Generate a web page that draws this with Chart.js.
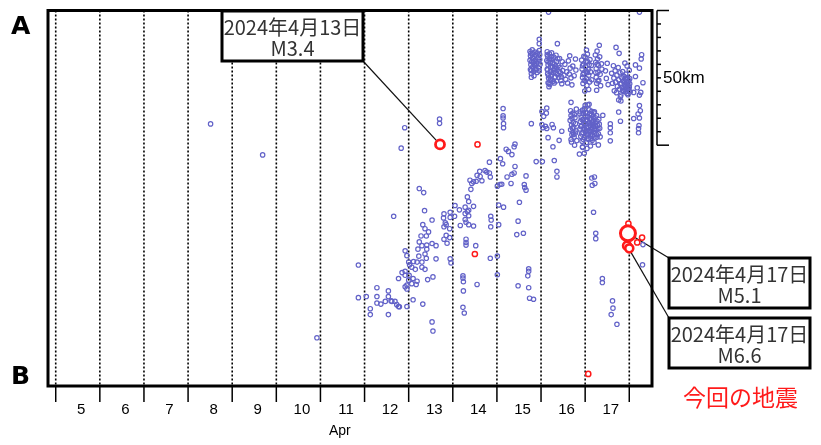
<!DOCTYPE html>
<html>
<head>
<meta charset="utf-8">
<script src="https://cdn.jsdelivr.net/npm/chart.js@4.4.1/dist/chart.umd.min.js"></script>
<style>
  html, body { margin: 0; padding: 0; background: #fff; }
  #wrap { width: 821px; height: 445px; }
</style>
</head>
<body>
<div id="wrap"><canvas id="chart" width="821" height="445"></canvas></div>
<script>
  // x: day of April (fractional), y: distance from A towards B in km
  const dayLabels = ['5', '6', '7', '8', '9', '10', '11', '12', '13', '14', '15', '16', '17'];
  const firstDay = 5;
  const monthLabel = 'Apr';

  const quakesWest = [[8.51, 42.1], [9.69, 53.6], [10.92, 121.5]];

  const quakes11to13 = [
    [11.86, 94.5], [11.86, 106.6], [12.04, 106.2], [12.13, 110.7], [12.13, 112.9], [12.28, 106.2], [12.28, 102.9],
    [12.28, 108.6], [12.37, 109.0], [12.47, 108.0], [12.54, 106.2], [12.54, 104.1], [12.54, 112.9], [12.60, 107.8],
    [12.62, 108.0], [12.66, 76.4], [12.69, 108.0], [12.73, 109.2], [12.77, 109.9], [12.77, 99.5], [12.79, 110.0],
    [12.83, 51.1], [12.85, 97.3], [12.91, 43.5], [12.92, 89.2], [12.92, 96.8], [12.92, 98.3], [12.92, 102.6],
    [12.96, 91.0], [12.96, 101.9], [12.96, 103.4], [12.96, 109.9], [13.00, 93.4], [13.00, 100.1], [13.01, 98.3],
    [13.02, 94.4], [13.07, 95.3], [13.07, 101.4], [13.10, 99.5], [13.10, 107.4], [13.11, 93.2], [13.15, 96.1],
    [13.17, 101.7], [13.19, 93.4], [13.19, 100.5], [13.21, 88.6], [13.23, 91.2], [13.24, 66.1], [13.24, 85.9],
    [13.28, 83.7], [13.30, 87.3], [13.30, 93.4], [13.30, 95.3], [13.32, 79.5], [13.32, 109.0], [13.34, 67.6],
    [13.36, 74.3], [13.37, 81.0], [13.37, 90.4], [13.37, 96.1], [13.40, 83.7], [13.40, 92.0], [13.41, 87.1],
    [13.41, 88.6], [13.43, 99.9], [13.45, 82.2], [13.53, 77.8], [13.53, 86.5], [13.53, 115.6], [13.55, 98.9],
    [13.55, 119.0], [13.62, 87.3], [13.62, 92.2], [13.70, 40.3], [13.70, 41.9]
  ];

  const quakes14 = [
    [13.80, 75.5], [13.79, 77.0], [13.83, 78.8], [13.80, 80.3], [13.93, 81.0], [13.94, 74.9], [14.04, 76.4],
    [13.85, 83.5], [13.80, 84.9], [13.93, 84.3], [13.87, 86.4], [13.94, 92.2], [13.96, 93.7], [14.05, 72.4],
    [13.94, 76.8], [13.85, 79.5], [14.15, 74.0], [14.28, 73.0], [14.47, 72.7], [14.36, 74.2], [14.36, 76.2],
    [14.28, 75.4], [14.28, 77.6], [14.30, 78.6], [14.36, 79.5], [14.47, 80.0], [14.17, 79.8], [14.33, 74.6],
    [14.30, 84.9], [14.30, 86.1], [14.30, 87.1], [14.52, 87.3], [14.33, 69.2], [14.36, 70.9], [14.41, 66.4],
    [14.43, 64.2], [14.39, 63.0], [14.47, 63.6], [14.53, 63.4], [14.66, 63.2], [14.55, 61.2], [14.62, 61.6],
    [14.61, 59.7], [14.73, 59.4], [14.77, 60.0], [14.83, 60.3], [14.85, 61.8], [14.83, 56.3], [14.23, 98.5],
    [14.23, 99.3], [14.24, 100.7], [14.24, 104.1], [14.23, 110.2], [14.26, 112.3], [14.55, 101.7], [14.85, 92.0],
    [14.86, 76.4], [14.87, 77.8], [14.86, 80.3]
  ];

  const quakes15 = [
    [15.01, 91.2], [15.01, 98.1], [15.04, 79.5], [15.04, 72.2], [15.15, 73.0], [15.01, 65.2], [15.07, 64.6],
    [15.11, 64.5], [15.23, 61.8], [15.32, 64.2], [15.34, 60.8], [15.39, 60.3], [15.41, 57.9], [15.66, 61.4],
    [15.62, 64.6], [15.63, 65.7], [15.66, 66.7], [15.51, 71.2], [15.48, 78.2], [15.45, 83.2], [15.60, 82.7],
    [15.48, 102.2], [15.72, 95.9], [15.72, 96.8], [15.70, 98.5], [15.72, 102.9], [15.74, 106.8], [15.83, 107.2],
    [15.08, 55.0], [15.13, 56.9], [15.34, 53.5], [15.39, 50.6], [15.21, 51.5], [15.26, 52.3], [15.41, 49.6],
    [15.15, 43.5], [15.14, 36.4], [15.14, 39.1], [15.14, 39.9], [15.15, 42.0], [15.78, 42.0], [15.89, 56.1],
    [16.03, 56.1]
  ];

  // shallow band near the A end, Apr 15-18
  const upperBand = [
    [15.75, 15.2], [15.76, 16.8], [15.75, 18.5], [15.77, 20.1], [15.76, 21.9], [15.78, 23.4], [15.80, 14.6],
    [15.81, 16.0], [15.80, 17.7], [15.82, 19.3], [15.81, 21.0], [15.83, 22.6], [15.84, 24.2], [15.86, 15.4],
    [15.85, 17.1], [15.87, 18.8], [15.86, 20.5], [15.88, 22.1], [15.90, 19.6], [15.91, 23.0], [15.93, 17.5],
    [15.95, 21.3], [15.96, 14.9], [15.97, 16.4], [15.97, 18.2], [15.98, 20.0], [15.96, 22.4], [15.96, 10.7],
    [15.96, 12.3], [15.78, 24.8], [15.92, 15.8], [15.77, 15.9], [15.79, 19.0], [15.78, 22.3], [15.83, 17.9],
    [15.85, 20.0], [15.89, 16.6], [15.89, 21.7], [15.94, 19.1],
    [16.14, 15.3], [16.15, 17.0], [16.13, 18.6], [16.16, 20.2], [16.14, 21.8], [16.15, 23.5], [16.17, 25.1],
    [16.16, 26.8], [16.18, 28.3], [16.19, 16.1], [16.20, 19.4], [16.21, 22.6], [16.22, 24.3], [16.20, 27.5],
    [16.24, 15.7], [16.25, 18.1], [16.26, 20.9], [16.27, 23.0], [16.25, 25.8], [16.29, 17.3], [16.30, 19.9],
    [16.31, 21.5], [16.32, 24.7], [16.30, 26.9], [16.34, 16.6], [16.35, 18.9], [16.36, 22.0], [16.37, 23.8],
    [16.35, 26.2], [16.39, 20.5], [16.40, 24.9], [16.42, 17.8], [16.43, 21.2], [16.44, 23.1], [16.45, 26.0],
    [16.48, 19.0], [16.49, 22.3], [16.47, 27.2], [16.52, 24.0], [16.54, 20.0], [16.56, 25.6], [16.58, 22.8],
    [16.60, 26.9], [16.62, 18.7], [16.64, 23.6], [16.65, 16.8], [16.66, 21.4], [16.68, 25.0], [16.70, 27.6],
    [16.72, 20.6], [16.75, 24.2], [16.78, 18.0], [16.79, 22.1], [16.37, 12.3],
    [16.14, 16.4], [16.16, 19.0], [16.15, 22.0], [16.17, 24.2], [16.18, 27.0], [16.19, 18.0], [16.21, 21.0],
    [16.22, 25.5], [16.23, 17.2], [16.24, 23.9], [16.26, 19.3], [16.28, 22.1], [16.28, 26.3], [16.33, 20.6],
    [16.33, 23.0], [16.38, 17.9], [16.41, 22.6], [16.46, 24.6],
    [16.92, 18.4], [16.93, 21.7], [16.94, 24.9], [16.95, 27.1], [16.96, 19.9], [16.97, 23.2], [16.98, 26.0],
    [16.99, 29.9], [17.00, 17.3], [17.01, 20.8], [17.02, 22.5], [17.03, 14.7], [17.03, 25.4], [17.04, 27.8],
    [17.05, 16.2], [17.06, 19.0], [17.07, 21.9], [17.08, 24.0], [17.08, 29.3], [17.10, 26.5], [17.11, 18.2],
    [17.12, 22.8], [17.14, 20.4], [17.15, 25.7], [17.23, 16.5], [17.24, 19.2], [17.25, 21.6], [17.25, 24.8],
    [17.26, 27.0], [17.26, 29.6], [17.27, 15.1], [17.28, 18.0], [17.29, 22.9], [17.30, 20.3], [17.31, 25.9],
    [17.32, 12.9], [17.33, 17.2], [17.34, 23.7], [17.35, 27.9], [17.37, 19.8], [17.38, 21.8], [17.46, 22.4],
    [17.48, 25.2], [17.50, 19.6], [17.52, 27.5], [16.68, 34.1], [16.94, 20.5], [16.95, 23.8], [16.97, 17.0],
    [17.00, 26.1], [17.02, 19.1], [17.05, 23.0], [17.09, 20.1], [17.24, 23.0], [17.27, 20.0], [17.29, 26.2],
    [17.60, 23.3], [17.62, 27.0], [17.64, 20.5], [17.65, 25.1], [17.66, 29.8], [17.68, 22.4], [17.69, 26.6],
    [17.70, 13.7], [17.71, 30.5], [17.72, 24.0], [17.73, 28.2], [17.75, 21.2], [17.76, 25.7], [17.77, 15.9],
    [17.78, 29.2], [17.79, 23.1], [17.80, 27.3], [17.81, 31.4], [17.81, 33.6], [17.83, 25.0], [17.84, 28.6],
    [17.85, 22.7], [17.86, 26.3], [17.87, 30.0], [17.88, 24.4], [17.89, 27.7], [17.90, 29.4], [17.91, 25.5],
    [17.92, 23.6], [17.93, 28.0], [17.94, 26.8], [17.95, 30.8], [17.96, 24.9], [17.97, 27.4], [17.98, 29.0],
    [17.99, 26.0], [18.00, 28.5], [18.01, 25.3], [18.02, 30.2], [18.00, 22.2], [17.95, 20.6], [17.90, 19.5],
    [17.82, 27.0], [17.85, 29.6], [17.88, 26.0], [17.91, 28.3], [17.93, 25.2], [17.96, 27.9], [17.99, 29.8],
    [18.01, 27.2], [17.97, 31.3], [17.92, 30.2],
    [18.28, 16.4], [18.27, 18.0], [18.23, 21.4], [18.14, 20.2], [18.14, 24.5], [18.31, 26.8], [18.18, 28.7],
    [18.26, 30.4], [18.10, 30.4], [18.23, 31.4], [18.23, 35.3], [18.25, 37.2], [18.20, 38.4], [18.23, 39.9],
    [18.10, 40.1], [18.22, 42.7], [18.21, 43.8], [18.21, 45.4], [16.17, 0.6], [18.23, 0.6]
  ];

  // deeper cluster, Apr 16-17
  const lowerBand = [
    [16.02, 37.5], [16.06, 39.3], [16.13, 36.2], [16.12, 38.1], [16.02, 42.3], [16.10, 43.0], [16.13, 43.8],
    [16.04, 43.5], [16.25, 42.3], [16.28, 43.5], [16.16, 47.2], [16.27, 50.6], [16.41, 48.2], [16.47, 44.8],
    [16.30, 55.7], [16.36, 59.7], [16.36, 61.8],
    [16.67, 37.2], [16.68, 39.0], [16.66, 40.8], [16.69, 42.5], [16.67, 44.3], [16.70, 46.1], [16.68, 47.9],
    [16.72, 38.1], [16.73, 41.6], [16.74, 43.4], [16.72, 45.2], [16.75, 47.0], [16.77, 39.8], [16.78, 42.0],
    [16.79, 44.7], [16.80, 36.6], [16.81, 48.3], [16.76, 50.0], [16.70, 40.0], [16.71, 43.6], [16.74, 46.0],
    [16.76, 38.6], [16.78, 45.5], [16.69, 48.8],
    [16.88, 38.4], [16.89, 41.2], [16.88, 44.0], [16.90, 46.7], [16.91, 39.7], [16.92, 42.9], [16.93, 48.5],
    [16.94, 37.0], [16.95, 45.3], [16.96, 40.5], [16.97, 43.6], [16.98, 47.2], [16.99, 36.3], [17.00, 39.1],
    [17.01, 42.0], [17.02, 44.8], [17.03, 49.0], [17.04, 38.0], [17.05, 41.0], [17.06, 46.0], [17.07, 43.2],
    [17.08, 48.0], [17.09, 36.9], [17.10, 40.2], [17.11, 45.0], [17.12, 42.5], [17.13, 47.4], [17.14, 38.9],
    [17.15, 44.0], [17.16, 41.4], [17.17, 46.3], [17.18, 39.6], [17.19, 43.0], [17.20, 48.9], [17.21, 37.6],
    [17.22, 45.5], [17.23, 41.8], [17.25, 44.4], [17.26, 39.0], [17.27, 47.0], [17.28, 42.6], [17.30, 45.8],
    [17.31, 40.4], [17.33, 43.7], [17.34, 46.9], [16.94, 50.6], [17.04, 51.2], [17.12, 50.3], [17.00, 35.2],
    [17.06, 35.0], [17.09, 34.8], [16.98, 53.0],
    [16.89, 37.6], [16.90, 43.1], [16.92, 45.8], [16.93, 40.6], [16.95, 38.2], [16.96, 47.9], [16.97, 41.7],
    [16.99, 44.2], [17.00, 46.5], [17.01, 37.9], [17.02, 40.7], [17.03, 43.5], [17.05, 45.9], [17.06, 39.4],
    [17.07, 47.5], [17.08, 41.8], [17.09, 44.6], [17.10, 38.3], [17.11, 42.9], [17.12, 46.0], [17.13, 40.0],
    [17.14, 44.9], [17.15, 37.4], [17.16, 48.2], [17.17, 42.2], [17.18, 45.2], [17.19, 40.8], [17.20, 38.0],
    [17.21, 43.9], [17.22, 47.3], [17.23, 39.8], [17.24, 42.9], [17.26, 46.1], [17.27, 41.1], [17.29, 43.8],
    [17.32, 42.2],
    [16.87, 53.3], [16.94, 50.8], [17.30, 49.9], [17.57, 42.1], [17.57, 43.5], [17.57, 45.4], [17.57, 48.4],
    [17.40, 38.9], [17.80, 41.1], [17.76, 37.7], [17.80, 32.0], [17.76, 33.2]
  ];

  const quakes17 = [
    [17.15, 62.2], [17.21, 61.8], [17.16, 64.9], [17.22, 64.2], [17.19, 74.9], [17.24, 82.7], [17.24, 84.7],
    [17.39, 99.5], [17.39, 101.0], [17.62, 107.8], [17.63, 110.5], [17.59, 112.9], [17.72, 116.5],
    [18.31, 86.9], [18.30, 94.4]
  ];

  // red marks: the event series
  const eventsSmall = [[14.56, 49.7], [14.50, 90.4], [17.07, 134.9], [17.98, 79.1], [18.29, 84.3], [18.18, 86.1]];
  const eventsMid = [[17.95, 87.3], [18.00, 88.3]];
  const eventM34 = [[13.71, 49.7]];
  const eventMain = [[17.97, 82.7]];

  const callouts = [
    { date: '2024年4月13日', mag: 'M3.4', at: eventM34[0], box: [222, 11], corner: [1, 1] },
    { date: '2024年4月17日', mag: 'M5.1', at: eventMain[0], box: [669, 258], corner: [0, 0] },
    { date: '2024年4月17日', mag: 'M6.6', at: eventsMid[0], box: [669, 318], corner: [0, 0] }
  ];
  const boxW = 141, boxH = 50;

  const toXY = (pairs) => pairs.map(([x, y]) => ({ x, y }));
  const blue = '#6262c8';
  const red = '#ff1a1a';

  const decor = {
    id: 'decor',
    beforeDatasetsDraw(chart) {
      const { ctx, chartArea: a, scales: { x, y } } = chart;
      ctx.save();
      ctx.strokeStyle = '#000';
      ctx.lineWidth = 1.6;
      ctx.setLineDash([2, 2]);
      for (let d = firstDay; d <= firstDay + dayLabels.length; d++) {
        const px = x.getPixelForValue(d);
        ctx.beginPath();
        ctx.moveTo(px, a.top);
        ctx.lineTo(px, a.bottom);
        ctx.stroke();
      }
      ctx.restore();

      // leader lines run under the event circles
      ctx.save();
      ctx.strokeStyle = '#111';
      ctx.lineWidth = 1.2;
      callouts.forEach((c) => {
        const bx = c.box[0] + c.corner[0] * boxW;
        const by = c.box[1] + c.corner[1] * boxH;
        ctx.beginPath();
        ctx.moveTo(bx, by);
        ctx.lineTo(x.getPixelForValue(c.at[0]), y.getPixelForValue(c.at[1]));
        ctx.stroke();
      });
      ctx.restore();
    },
    afterDraw(chart) {
      const { ctx, chartArea: a, scales: { x, y } } = chart;
      ctx.save();

      // plot frame
      ctx.strokeStyle = '#000';
      ctx.lineWidth = 3;
      ctx.strokeRect(a.left, a.top, a.right - a.left, a.bottom - a.top);

      // day ticks and labels
      ctx.lineWidth = 1.5;
      for (let d = firstDay; d <= firstDay + dayLabels.length; d++) {
        const px = x.getPixelForValue(d);
        ctx.beginPath();
        ctx.moveTo(px, a.bottom);
        ctx.lineTo(px, a.bottom + 16);
        ctx.stroke();
      }
      ctx.fillStyle = '#000';
      ctx.font = '15px "Liberation Sans", Arial, sans-serif';
      ctx.textAlign = 'center';
      ctx.textBaseline = 'middle';
      dayLabels.forEach((lab, i) => {
        ctx.fillText(lab, x.getPixelForValue(firstDay + i + 0.5) + 3.5, a.bottom + 24);
      });
      ctx.font = '14px "Liberation Sans", Arial, sans-serif';
      ctx.fillText(monthLabel, x.getPixelForValue(11.44), a.bottom + 45);

      // 50 km scale bar
      const sx = a.right + 5;
      ctx.lineWidth = 1.5;
      ctx.beginPath();
      ctx.moveTo(sx, y.getPixelForValue(0));
      ctx.lineTo(sx, y.getPixelForValue(50));
      ctx.stroke();
      for (let km = 0; km <= 50; km += 5) {
        const py = y.getPixelForValue(km);
        const len = km === 0 || km === 50 ? 12 : 4;
        ctx.beginPath();
        ctx.moveTo(sx, py);
        ctx.lineTo(sx + len, py);
        ctx.stroke();
      }
      ctx.textAlign = 'left';
      ctx.font = '17px "Liberation Sans", Arial, sans-serif';
      ctx.fillText('50km', sx + 6, y.getPixelForValue(25));

      // section end labels
      ctx.font = 'bold 25px "DejaVu Sans", sans-serif';
      ctx.textBaseline = 'alphabetic';
      ctx.fillText('A', 11, 34);
      ctx.fillText('B', 11, 384);

      // callout boxes
      callouts.forEach((c) => {
        const [bx, by] = c.box;
        ctx.fillStyle = '#fff';
        ctx.fillRect(bx, by, boxW, boxH);
        ctx.strokeStyle = '#000';
        ctx.lineWidth = 3;
        ctx.strokeRect(bx, by, boxW, boxH);
        ctx.fillStyle = '#333';
        ctx.font = '20px "Noto Sans CJK JP", sans-serif';
        ctx.textAlign = 'center';
        ctx.textBaseline = 'middle';
        ctx.fillText(c.date, bx + boxW / 2, by + 16);
        ctx.fillText(c.mag, bx + boxW / 2, by + 37);
      });

      ctx.fillStyle = red;
      ctx.font = '23px "Noto Sans CJK JP", sans-serif';
      ctx.textAlign = 'left';
      ctx.textBaseline = 'middle';
      ctx.fillText('今回の地震', 683, 397);
      ctx.restore();
    }
  };

  new Chart(document.getElementById('chart'), {
    type: 'scatter',
    data: {
      datasets: [
        { label: 'main', data: toXY(eventMain), pointRadius: 7.5, borderWidth: 3, borderColor: red, backgroundColor: '#fff' },
        { label: 'M3.4', data: toXY(eventM34), pointRadius: 4.5, borderWidth: 2.8, borderColor: red, backgroundColor: '#fff' },
        { label: 'mid', data: toXY(eventsMid), pointRadius: 4, borderWidth: 2.6, borderColor: red, backgroundColor: '#fff' },
        { label: 'small', data: toXY(eventsSmall), pointRadius: 2.6, borderWidth: 1.5, borderColor: red, backgroundColor: '#fff' },
        {
          label: 'quakes',
          data: toXY([].concat(quakesWest, quakes11to13, quakes14, quakes15, upperBand, lowerBand, quakes17)),
          pointRadius: 2.2, borderWidth: 1.2, borderColor: blue, backgroundColor: 'rgba(0,0,0,0)'
        }
      ]
    },
    options: {
      responsive: false,
      animation: false,
      devicePixelRatio: 1,
      layout: { padding: { left: 48, top: 4, right: 169, bottom: 59 } },
      plugins: { legend: { display: false }, tooltip: { enabled: false } },
      scales: {
        x: { type: 'linear', display: false, min: 4.825, max: 18.515 },
        y: { type: 'linear', display: false, reverse: true, min: 0, max: 139.4 }
      }
    },
    plugins: [decor]
  });
</script>
</body>
</html>
